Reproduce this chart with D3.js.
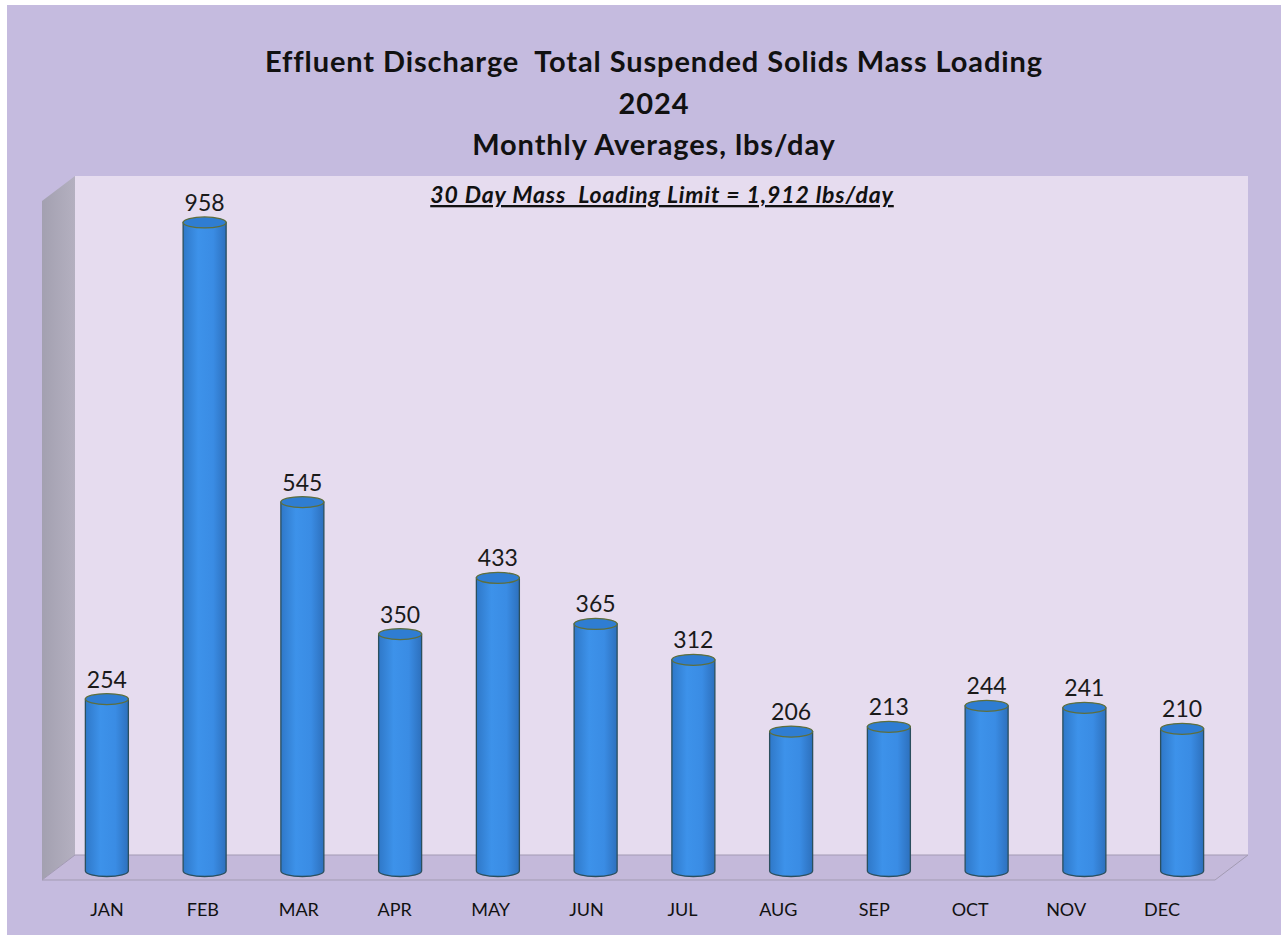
<!DOCTYPE html>
<html>
<head>
<meta charset="utf-8">
<script src="https://cdn.jsdelivr.net/npm/d3@7"></script>
<style>
  body { margin: 0; background: #fff; }
  text { font-family: Lato, "Open Sans", sans-serif; }
</style>
</head>
<body>
<div id="chart"></div>
<script>
// data
var months = ["JAN","FEB","MAR","APR","MAY","JUN","JUL","AUG","SEP","OCT","NOV","DEC"];
var tssLoad = [254, 958, 545, 350, 433, 365, 312, 206, 213, 244, 241, 210];
var titleLines = ["Effluent Discharge  Total Suspended Solids Mass Loading", "2024", "Monthly Averages, lbs/day"];
var limitNote = "30 Day Mass  Loading Limit = 1,912 lbs/day";

var width = 1281, height = 937;

var svg = d3.select("#chart").append("svg")
    .attr("width", width)
    .attr("height", height);

var defs = svg.append("defs");

// cylinder shading
var grad = defs.append("linearGradient").attr("id", "cyl")
    .attr("x1", 0).attr("x2", 1).attr("y1", 0).attr("y2", 0);
grad.append("stop").attr("offset", "0%").attr("stop-color", "#2f78c8");
grad.append("stop").attr("offset", "35%").attr("stop-color", "#3d92ea");
grad.append("stop").attr("offset", "70%").attr("stop-color", "#3a8ce4");
grad.append("stop").attr("offset", "100%").attr("stop-color", "#2d70bd");

var sideGrad = defs.append("linearGradient").attr("id", "side")
    .attr("x1", 0).attr("x2", 1).attr("y1", 0).attr("y2", 0);
sideGrad.append("stop").attr("offset", "0%").attr("stop-color", "#a3a0b0");
sideGrad.append("stop").attr("offset", "100%").attr("stop-color", "#b4b0c0");

// page background
svg.append("rect")
    .attr("x", 7).attr("y", 5)
    .attr("width", width - 7).attr("height", 930)
    .style("fill", "#c5bbdf");

// 3d box
var wallL = 75, wallR = 1248, wallTop = 176, wallBot = 855;
var dx = -33, dy = 25;

svg.append("rect")
    .attr("x", wallL).attr("y", wallTop)
    .attr("width", wallR - wallL).attr("height", wallBot - wallTop)
    .style("fill", "#e6dcef");

svg.append("polygon")
    .attr("points", [[wallL, wallTop], [wallL + dx, wallTop + dy], [wallL + dx, wallBot + dy], [wallL, wallBot]].join(" "))
    .style("fill", "url(#side)");

svg.append("polygon")
    .attr("points", [[wallL, wallBot], [wallR, wallBot], [wallR + dx, wallBot + dy], [wallL + dx, wallBot + dy]].join(" "))
    .style("fill", "#c4b9da")
    .style("stroke", "#a39bb3")
    .style("stroke-width", 1);

// scales
var xScale = d3.scaleBand()
    .domain(months)
    .range([58, 1231]);

var xLabel = d3.scaleBand()
    .domain(months)
    .range([59, 1210]);

var yScale = d3.scaleLinear()
    .domain([0, 1000])
    .range([871, 194]);

var cw = 43, rx = cw / 2, ry = 5.5;

var bars = svg.selectAll(".cyl")
    .data(tssLoad)
    .enter().append("g")
    .attr("class", "cyl");

bars.append("path")
    .attr("d", function(d, i) {
        var cx = xScale(months[i]) + xScale.bandwidth() / 2;
        var top = yScale(d), bot = yScale(0);
        return "M" + (cx - rx) + "," + top +
            " L" + (cx - rx) + "," + bot +
            " A" + rx + "," + ry + " 0 0 0 " + (cx + rx) + "," + bot +
            " L" + (cx + rx) + "," + top + " Z";
    })
    .style("fill", "url(#cyl)")
    .style("stroke", "#2b4f5e")
    .style("stroke-width", 1.3);

bars.append("ellipse")
    .attr("cx", function(d, i) { return xScale(months[i]) + xScale.bandwidth() / 2; })
    .attr("cy", function(d) { return yScale(d); })
    .attr("rx", rx)
    .attr("ry", ry)
    .style("fill", "#2f7dd2")
    .style("stroke", "#5e6e3c")
    .style("stroke-width", 1.3);

bars.append("text")
    .attr("x", function(d, i) { return xScale(months[i]) + xScale.bandwidth() / 2; })
    .attr("y", function(d) { return yScale(d) - ry - 6; })
    .attr("text-anchor", "middle")
    .style("font-size", "23px")
    .style("fill", "#1a1a1a")
    .text(function(d) { return d; });

// month labels
svg.selectAll(".month")
    .data(months)
    .enter().append("text")
    .attr("class", "month")
    .attr("x", function(d) { return xLabel(d) + xLabel.bandwidth() / 2; })
    .attr("y", 916)
    .attr("text-anchor", "middle")
    .style("font-size", "18px")
    .style("fill", "#111")
    .text(function(d) { return d; });

// titles
var titleY = [72, 113.5, 155];
svg.selectAll(".title")
    .data(titleLines)
    .enter().append("text")
    .attr("class", "title")
    .attr("x", 654)
    .attr("y", function(d, i) { return titleY[i]; })
    .attr("text-anchor", "middle")
    .style("font-size", "29px")
    .style("font-weight", "bold")
    .style("letter-spacing", "0.9px")
    .style("white-space", "pre")
    .style("fill", "#111")
    .text(function(d) { return d; });

svg.append("text")
    .attr("x", 662)
    .attr("y", 203)
    .attr("text-anchor", "middle")
    .style("font-size", "23px")
    .style("font-weight", "bold")
    .style("font-style", "italic")
    .style("letter-spacing", "0.9px")
    .style("text-decoration", "underline")
    .style("white-space", "pre")
    .style("fill", "#111")
    .text(limitNote);
</script>
</body>
</html>
